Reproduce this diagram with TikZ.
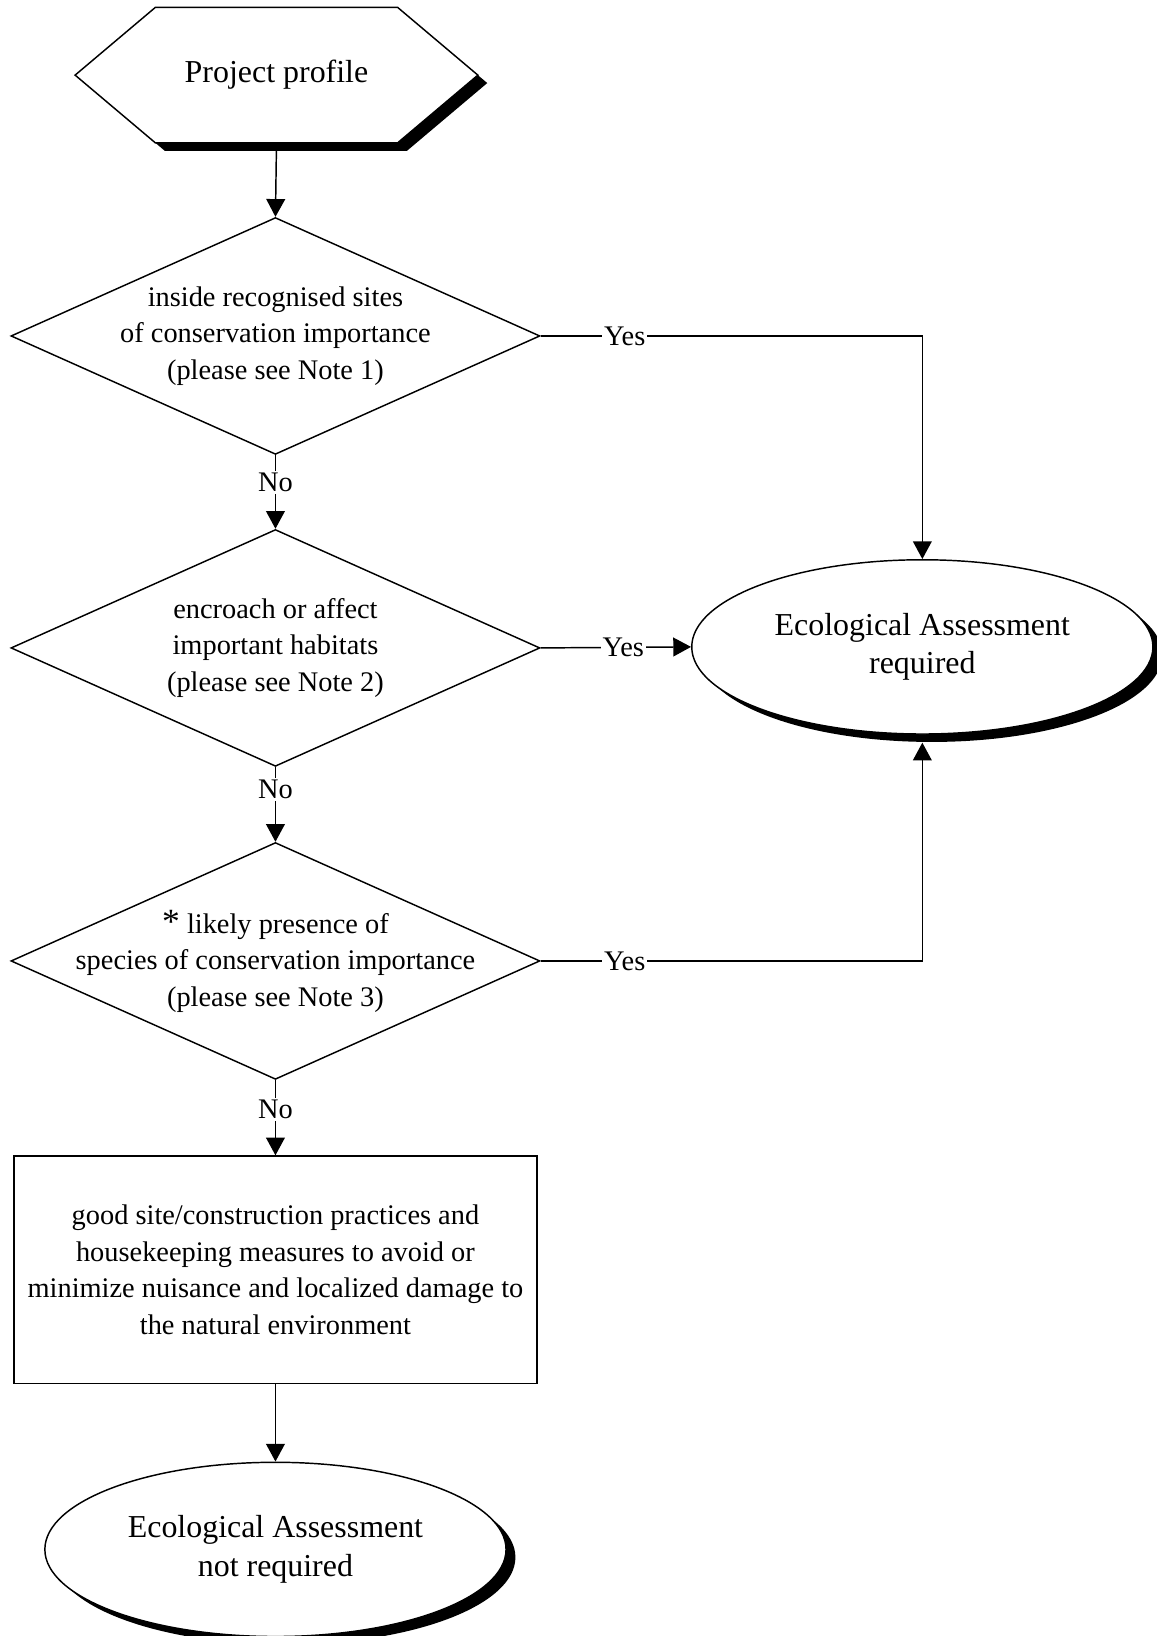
\documentclass[tikz,border=0pt]{standalone}
\usepackage{fontspec}
\setmainfont{Liberation Serif}
\usepackage{tikz}
\usetikzlibrary{shapes.geometric, arrows.meta, positioning, calc, shadows}

\newcommand{\notefont}{\fontsize{13.6pt}{17.5pt}\selectfont}
\newcommand{\ovalfont}{\fontsize{15.3pt}{18.5pt}\selectfont}

\begin{document}
\begin{tikzpicture}[x=0.5pt, y=-0.5pt, line width=0.7pt,
    flow/.style={-{Triangle[length=8.5pt, width=9pt]}},
    answer/.style={fill=white, inner sep=1pt, font=\notefont},
    shadowed/.style={drop shadow={shadow xshift=4.5pt, shadow yshift=-3.8pt, opacity=1, fill=black}},
    decision/.style={diamond, draw, minimum width=253.5pt, minimum height=113.5pt, inner sep=0pt},
    notetext/.style={align=center, font=\notefont},
    outcome/.style={ellipse, draw, fill=white, shadowed, minimum width=221pt, minimum height=83.5pt, inner sep=0pt, align=center, font=\ovalfont},
    action/.style={rectangle, draw, minimum width=250.5pt, minimum height=109pt, align=center, font=\notefont}]
    \useasboundingbox (0,0) rectangle (1108,1568);

    % Start: project profile (hexagon)
    \coordinate (ppc) at (265,72);
    \filldraw[fill=white, shadowed] ($(ppc)+(-193,0)$) -- ++(77,-65) -- ++(232,0) -- ++(77,65) -- ++(-77,65) -- ++(-232,0) -- cycle;
    \node[font=\ovalfont] (pp) at (ppc) {Project profile};
    \coordinate (ppb) at ($(ppc)+(0,65)$);

    % The three checks
    \node[decision] (d1) at (264,322) {};
    \node[notetext] (d1t) at (d1) {inside recognised sites\\ of conservation importance\\ (please see Note 1)};
    \node[decision] (d2) at (264,621) {};
    \node[notetext] (d2t) at (d2) {encroach or affect\\ important habitats\\ (please see Note 2)};
    \node[decision] (d3) at (264,921) {};
    \node[notetext] (d3t) at (d3) {{\fontsize{17pt}{17.5pt}\selectfont*} likely presence of\\ species of conservation importance\\ (please see Note 3)};

    % Measures box
    \node[action] (act) at (264,1217) {good site/construction practices and\\ housekeeping measures to avoid or\\ minimize nuisance and localized damage to\\ the natural environment};

    % Outcomes
    \node[outcome] (ear) at (884,620) {Ecological Assessment\\ required};
    \node[outcome] (eanr) at (264,1485) {Ecological Assessment\\ not required};

    % Connectors
    \draw[flow] (ppb) -- (d1.north);
    \draw[flow] (d1.south) -- node[answer, pos=0.37] (no1) {No} (d2.north);
    \draw[flow] (d2.south) -- node[answer, pos=0.30] (no2) {No} (d3.north);
    \draw[flow] (d3.south) -- node[answer, pos=0.39] (no3) {No} (act.north);
    \draw[flow] (act.south) -- (eanr.north);
    \draw[flow] (d1.east) -| node[answer, pos=0.11] (yes1) {Yes} (ear.north);
    \draw[flow] (d2.east) -- node[answer, pos=0.55] (yes2) {Yes} (ear.west);
    \draw[flow, shorten >=3.8pt] (d3.east) -| node[answer, pos=0.11] (yes3) {Yes} (ear.south);
\end{tikzpicture}
\end{document}
